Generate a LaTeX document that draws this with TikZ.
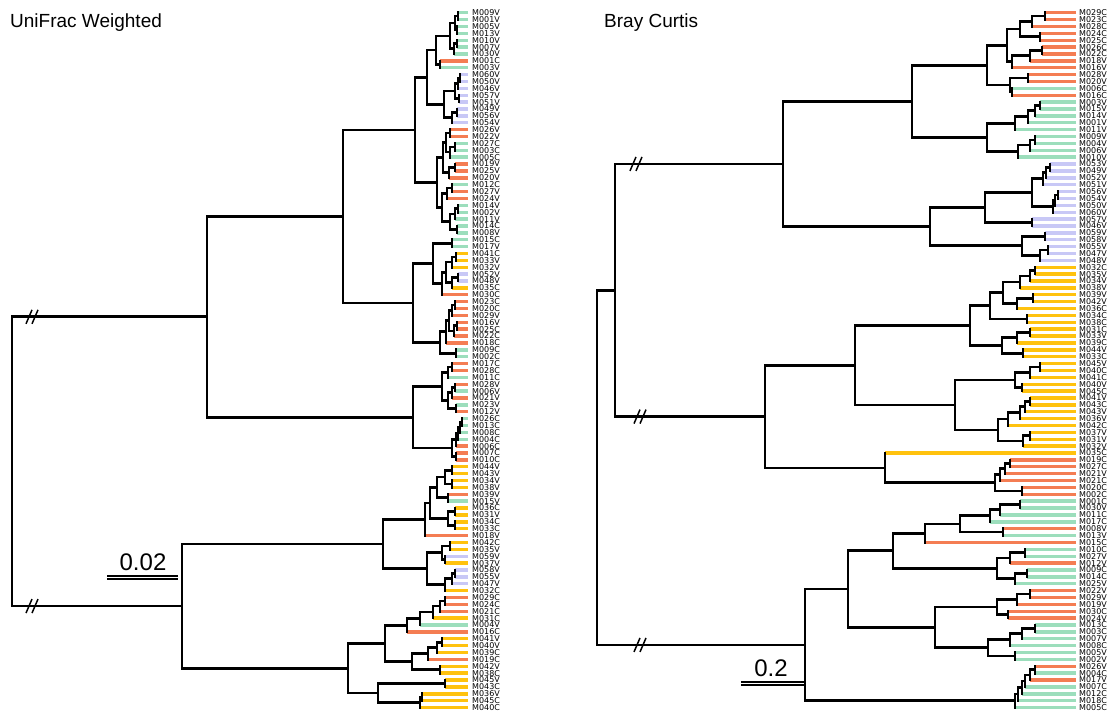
\documentclass[tikz,border=0pt]{standalone}
\usepackage{fontspec}
\setmainfont{Liberation Sans}
\newfontfamily\lblfont{DejaVu Sans}
\definecolor{cG}{HTML}{9CDEBC}
\definecolor{cO}{HTML}{F47D53}
\definecolor{cL}{HTML}{C8C8F6}
\definecolor{cY}{HTML}{FFC20E}
\tikzset{
  edge/.style={line width=2.7pt, line cap=rect},
  tip/.style={line width=3.4pt},
  lbl/.style={font=\lblfont\fontsize{8}{8}\selectfont, inner sep=0pt, anchor=west},
  title/.style={font=\fontsize{19}{19}\selectfont, inner sep=0pt, anchor=base west},
  scl/.style={font=\fontsize{24}{24}\selectfont, inner sep=0pt, anchor=base},
  brk/.style={line width=1.5pt},
}
\newcommand\edgeto[2]{%
  \ifcsname col@#2\endcsname
    \edef\tipcol{\csname col@#2\endcsname}%
    \draw[tip, color=\tipcol] (#2) -- (#2 -| #1);%
  \else
    \draw[edge] (#2) -- (#2 -| #1);%
  \fi}
\newcommand\clade[4]{%
  \path (#3) -- (#4) coordinate[pos=.5] (#1m);
  \coordinate (#1) at (#2,0 |- #1m);
  \edgeto{#1}{#3}\edgeto{#1}{#4}%
  \draw[edge] (#3 -| #1) -- (#4 -| #1);}
\newcommand\cut[1]{\draw[brk] #1 ++(-6,7) -- ++(6,-14) #1 ++(0,7) -- ++(6,-14);}
\begin{document}
\begin{tikzpicture}[x=1pt,y=-1pt]
\useasboundingbox (0,0) rectangle (1110,714);
\node[title] (tleft) at (10,28) {UniFrac Weighted};
\node[title] (tright) at (604,28) {Bray Curtis};

\foreach \c/\lab [count=\n] in {G/M009V,G/M001V,G/M005V,G/M013V,G/M010V,G/M007V,G/M030V,O/M001C,G/M003V,
  L/M060V,L/M050V,L/M046V,L/M057V,L/M051V,L/M049V,L/M056V,L/M054V,O/M026V,O/M022V,G/M027C,G/M003C,G/M005C,
  O/M019V,O/M025V,O/M020V,G/M012C,O/M027V,O/M024V,G/M014V,G/M002V,G/M011V,G/M014C,G/M008V,G/M015C,G/M017V,
  Y/M041C,Y/M033V,Y/M032V,L/M052V,L/M048V,Y/M035C,O/M030C,O/M023C,O/M020C,O/M029V,O/M016V,O/M025C,O/M022C,
  O/M018C,G/M009C,G/M002C,O/M017C,O/M028C,G/M011C,O/M028V,G/M006V,O/M021V,G/M023V,O/M012V,G/M026C,G/M013C,
  G/M008C,G/M004C,O/M006C,O/M007C,O/M010C,Y/M044V,Y/M043V,Y/M034V,Y/M038V,O/M039V,G/M015V,Y/M036C,Y/M031V,
  Y/M034C,Y/M033C,O/M018V,Y/M042C,Y/M035V,L/M059V,Y/M037V,L/M058V,L/M055V,L/M047V,Y/M032C,O/M029C,O/M024C,
  O/M021C,Y/M031C,G/M004V,O/M016C,Y/M041V,Y/M040V,Y/M039C,O/M019C,Y/M042V,Y/M038C,Y/M045V,Y/M043C,Y/M036V,
  Y/M045C,Y/M040C} {
  \coordinate (u\n) at (468,{12.7+6.88*(\n-1)});
  \node[lbl] (ul\n) at (472,{12.7+6.88*(\n-1)}) {\lab};
  \expandafter\xdef\csname col@u\n\endcsname{c\c}
}
\foreach \c/\lab [count=\n] in {O/M029C,O/M023C,O/M028C,O/M024C,O/M025C,O/M026C,O/M022C,O/M018V,O/M016V,
  O/M028V,O/M020V,G/M006C,O/M016C,G/M003V,G/M015V,G/M014V,G/M001V,G/M011V,G/M009V,G/M004V,G/M006V,G/M010V,
  L/M053V,L/M049V,L/M052V,L/M051V,L/M056V,L/M054V,L/M050V,L/M060V,L/M057V,L/M046V,L/M059V,L/M058V,L/M055V,
  L/M047V,L/M048V,Y/M032C,Y/M035V,Y/M034V,Y/M038V,Y/M039V,Y/M042V,Y/M036C,Y/M034C,Y/M038C,Y/M031C,Y/M033V,
  Y/M039C,Y/M044V,Y/M033C,Y/M045V,Y/M040C,Y/M041C,Y/M040V,Y/M045C,Y/M041V,Y/M043C,Y/M043V,Y/M036V,Y/M042C,
  Y/M037V,Y/M031V,Y/M032V,Y/M035C,O/M019C,O/M027C,O/M021V,O/M021C,O/M020C,O/M002C,G/M001C,G/M030V,G/M011C,
  G/M017C,O/M008V,G/M013V,O/M015C,G/M010C,G/M027V,O/M012V,G/M009C,G/M014C,G/M025V,O/M022V,O/M029V,O/M019V,
  O/M030C,O/M024V,G/M013C,G/M003C,G/M007V,G/M008C,G/M005V,G/M002V,O/M026V,G/M004C,O/M017V,G/M007C,G/M012C,
  G/M018C,G/M005C} {
  \coordinate (b\n) at (1076,{12.7+6.88*(\n-1)});
  \node[lbl] (bl\n) at (1079,{12.7+6.88*(\n-1)}) {\lab};
  \expandafter\xdef\csname col@b\n\endcsname{c\c}
}

\foreach \nm/\xx/\ca/\cb in {a1/458/u1/u2,a2/457/u3/u4,a3/455/a1/a2,a4/457/u5/u6,a5/454/a4/u7,a6/450/a3/a5,
  a7/440/u8/u9,a8/436/a6/a7,l1/460/u10/u11,l2/458/l1/u12,l3/459/u13/u14,l4/455/l2/l3,l5/457/u15/u16,
  l6/452/l5/u17,l7/444/l4/l6,up/427/a8/l7,
  q1/450/u18/u19,q2/455/u20/u21,q3/450/q2/u22,q4/446/q1/q3,q5/455/u23/u24,q6/449/q5/u25,q7/443/q4/q6,
  q8/452/u26/u27,q9/447/q8/u28,q10/458/u29/u30,q11/455/q10/u31,q12/457/u32/u33,q13/450/q11/q12,
  q14/442/q9/q13,uq/437/q7/q14,ua1/415/up/uq,
  r1/452/u34/u35,r2/456/u36/u37,r3/452/r2/u38,r4/458/u39/u40,r5/452/r4/u41,r6/446/r3/r5,r7/442/r6/u42,
  r8/433/r1/r7,s1/455/u43/u44,s2/452/s1/u45,s3/457/u46/u47,s4/454/s3/u48,s5/449/s2/s4,s6/446/s5/u49,
  s7/456/u50/u51,s8/440/s6/s7,ua2/413/r8/s8,ua/343/ua1/ua2,
  t1/452/u52/u53,t2/448/t1/u54,t3/455/u55/u56,t4/452/t3/u57,t5/456/u58/u59,t6/448/t4/t5,t7/442/t2/t6,
  t8/462/u60/u61,t9/460/t8/u62,t10/458/t9/u63,t11/456/t10/u64,t12/456/u65/u66,t13/452/t11/t12,
  ub/413/t7/t13,uA/207/ua/ub,
  v1/452/u67/u68,v2/452/u69/u70,v3/445/v1/v2,v4/448/u71/u72,v5/437/v3/v4,v6/455/u73/u74,v7/455/u75/u76,
  v8/448/v6/v7,v9/430/v5/v8,v10/425/v9/u77,w1/450/u78/u79,w2/445/u80/u81,w3/442/w1/w2,w4/455/u82/u83,
  w5/452/w4/u84,w6/445/w5/u85,w7/427/w3/w6,uc/383/v10/w7,
  x1/445/u86/u87,x2/440/x1/u88,x3/433/x2/u89,x4/420/x3/u90,x5/407/x4/u91,x6/442/u92/u93,x7/437/x6/u94,
  x8/428/x7/u95,x9/440/u96/u97,x10/412/x8/x9,x11/385/x5/x10,y1/445/u98/u99,y2/422/u100/u101,
  y3/420/y2/u102,y4/378/y1/y3,ud/348/x11/y4,uB/182/uc/ud,ur/12/uA/uB} {\clade{\nm}{\xx}{\ca}{\cb}}

\foreach \nm/\xx/\ca/\cb in {e1/1045/b1/b2,e2/1032/e1/b3,e3/1040/b4/b5,e4/1020/e2/e3,e5/1042/b6/b7,
  e6/1030/e5/b8,e7/1012/e6/b9,e8/1007/e4/e7,e9/1028/b10/b11,e10/1012/b12/b13,e11/1010/e9/e10,bE/987/e8/e11,
  f1/1040/b14/b15,f2/1035/f1/b16,f3/1028/f2/b17,f4/1015/f3/b18,f5/1035/b19/b20,f6/1030/f5/b21,
  f7/1018/f6/b22,bF/987/f4/f7,bta/912/bE/bF,
  g1/1050/b23/b24,g2/1046/g1/b25,g3/1043/g2/b26,g4/1058/b27/b28,g5/1055/g4/b29,g6/1053/g5/b30,
  g7/1032/g3/g6,g8/1032/b31/b32,g9/985/g7/g8,g10/1045/b33/b34,g11/1048/b35/b36,g12/1040/g11/b37,
  g13/1022/g10/g12,btb/930/g9/g13,bt1/783/bta/btb,
  h1/1035/b38/b39,h2/1030/h1/b40,h3/1020/h2/b41,h4/1033/b42/b43,h5/1017/h4/b44,h6/1003/h3/h5,
  h7/1027/b45/b46,h8/990/h6/h7,h9/1030/b47/b48,h10/1017/h9/b49,h11/1023/b50/b51,h12/1002/h10/h11,
  h13/1040/b52/b53,h14/1030/h13/b54,h15/1022/b55/b56,h16/1015/h14/h15,h17/1030/b57/b58,h18/1025/h17/b59,
  h19/1020/h18/b60,h20/1008/h19/b61,h21/1030/b62/b63,h22/1023/h21/b64,h23/998/h20/h22,
  h24/970/h8/h12,h25/955/h16/h23,btc/855/h24/h25,
  k1/1010/b66/b67,k2/1005/k1/b68,k3/1000/k2/b69,k4/1022/b70/b71,k5/995/k3/k4,btd/885/b65/k5,
  bt2/765/btc/btd,bT/615/bt1/bt2,
  i1/1020/b72/b73,i2/1000/i1/b74,i3/990/i2/b75,i4/1003/b76/b77,m1/960/i3/i4,m2/925/m1/b78,
  i5/1025/b79/b80,i6/1010/i5/b81,i7/1027/b82/b83,i8/1015/i7/b84,i9/997/i6/i8,m3/893/m2/i9,
  i10/1030/b85/b86,i11/1017/i10/b87,i12/1008/b88/b89,i13/997/i11/i12,
  i14/1035/b90/b91,i15/1022/i14/b92,i16/1010/i15/b93,i17/1015/b94/b95,i18/988/i16/i17,m4/935/i13/i18,
  m5/848/m3/m4,j1/1035/b96/b97,j2/1030/j1/b98,j3/1025/j2/b99,j4/1022/j3/b100,j5/1018/j4/b101,
  j6/1015/j5/b102,bB/805/m5/j6,br/597/bT/bB} {\clade{\nm}{\xx}{\ca}{\cb}}

\cut{(32,0 |- uA)}
\cut{(32,0 |- uB)}
\cut{(636,0 |- bt1)}
\cut{(640,0 |- bt2)}
\cut{(640,0 |- bB)}

\node[scl] (sleft) at (143,570) {0.02};
\coordinate (sl1) at (107,576);
\coordinate (sl2) at (178,576);
\draw[line width=1.2pt] (sl1) -- (sl2) ([yshift=-3pt]sl1) -- ([yshift=-3pt]sl2);
\node[scl] (sright) at (771,676) {0.2};
\coordinate (sr1) at (741,682);
\coordinate (sr2) at (805,682);
\draw[line width=1.2pt] (sr1) -- (sr2) ([yshift=-3pt]sr1) -- ([yshift=-3pt]sr2);
\end{tikzpicture}
\end{document}
